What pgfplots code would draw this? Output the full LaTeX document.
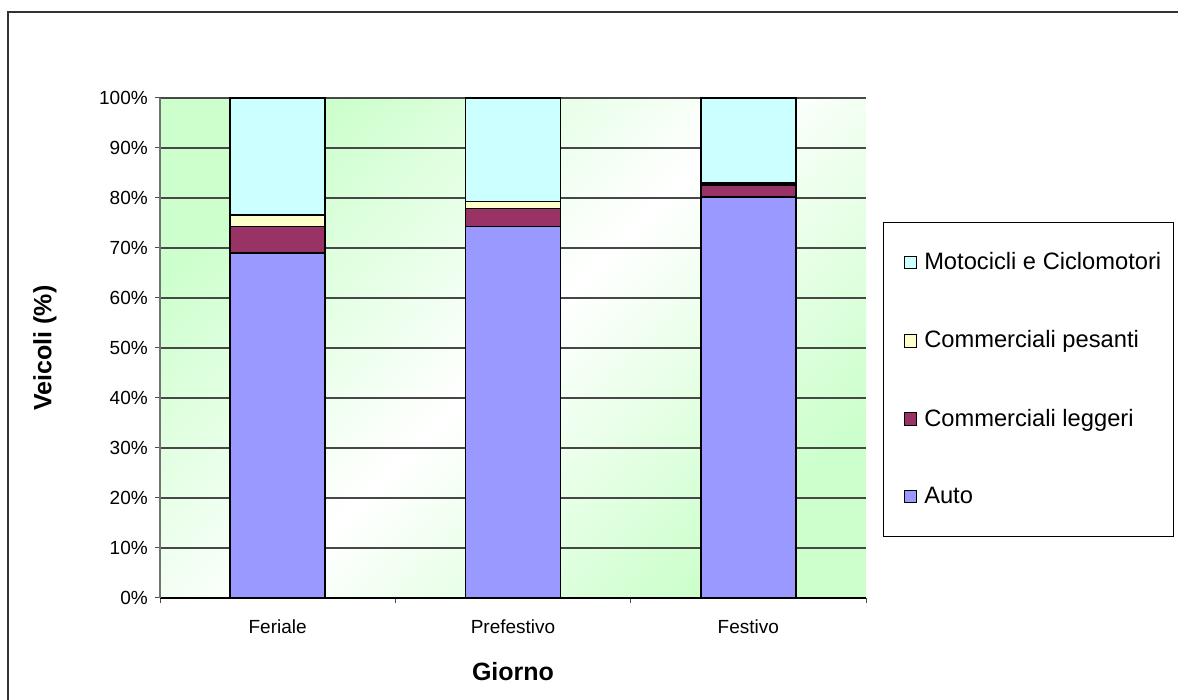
\documentclass[border=0pt]{standalone}
\usepackage{fontspec}
\setmainfont{Liberation Sans}
\usepackage{pgfplots}
\pgfplotsset{compat=1.18}

\definecolor{autoC}{HTML}{9999FF}
\definecolor{leggC}{HTML}{993366}
\definecolor{pesC}{HTML}{FFFFCC}
\definecolor{motoC}{HTML}{CCFFFF}
\definecolor{bgGreen}{HTML}{CCFFCC}

\begin{document}
\begin{tikzpicture}
\useasboundingbox (0,0) rectangle (589pt,350pt);
% outer chart frame
\draw[black!80, line width=0.7pt] (4pt,-5pt) -- (4pt,344pt) -- (600pt,344pt);
% plot area background: green corners fading to white along the diagonal
\shade[top color=bgGreen, bottom color=bgGreen, middle color=white,
  shading angle=45] (80pt,51pt) rectangle (433pt,301pt);
\begin{axis}[
  at={(80pt,51pt)}, anchor=south west,
  scale only axis, width=353pt, height=250pt,
  ybar stacked, bar width=47.5pt,
  xmin=-0.5, xmax=2.5, ymin=0, ymax=100,
  enlarge x limits=false, enlarge y limits=false,
  axis lines*=left,
  x axis line style={black, line width=0.6pt},
  y axis line style={black!55, line width=0.6pt},
  tick align=outside,
  major tick length=2.6pt,
  tick style={black!70, line width=0.5pt},
  xtick={-0.5,0.5,1.5,2.5}, xticklabels={},
  extra x ticks={0,1,2},
  extra x tick labels={Feriale,Prefestivo,Festivo},
  extra x tick style={major tick length=0pt,
    xticklabel style={yshift=-7.5pt}},
  ytick={0,10,...,100},
  yticklabels={0\%,10\%,20\%,30\%,40\%,50\%,60\%,70\%,80\%,90\%,100\%},
  ticklabel style={font=\fontsize{9.5}{11}\selectfont},
  ymajorgrids,
  grid style={black!72, line width=0.55pt},
  xlabel={Giorno}, ylabel={Veicoli (\%)},
  label style={font=\fontsize{12.5}{15}\selectfont\bfseries},
  xlabel style={at={(axis description cs:0.5,-0.148)}, anchor=center},
  ylabel style={at={(axis description cs:-0.163,0.5)}, anchor=center},
  every axis plot/.append style={draw=black, line width=0.7pt},
  reverse legend,
  legend cell align=left,
  legend image code/.code={
    \draw[#1, line width=0.4pt, draw=black] (6pt,-3.1pt) rectangle (12.2pt,3.1pt);
    \path (0pt,0pt) (13.7pt,0pt);},
  legend style={at={(axis description cs:1.024,0.752)}, anchor=north west,
    draw=black, line width=0.5pt, fill=white,
    font=\fontsize{11.85}{14}\selectfont,
    inner xsep=4pt, inner ysep=13pt, row sep=25pt,
    nodes={inner xsep=2pt}},
]
\addplot[fill=autoC] coordinates {(0,69.0) (1,74.3) (2,80.2)};
\addlegendentry{Auto}
\addplot[fill=leggC] coordinates {(0,5.3) (1,3.6) (2,2.4)};
\addlegendentry{Commerciali leggeri}
\addplot[fill=pesC] coordinates {(0,2.3) (1,1.4) (2,0.4)};
\addlegendentry{Commerciali pesanti}
\addplot[fill=motoC] coordinates {(0,23.4) (1,20.7) (2,17.0)};
\addlegendentry{Motocicli e Ciclomotori}
\end{axis}
\end{tikzpicture}
\end{document}
